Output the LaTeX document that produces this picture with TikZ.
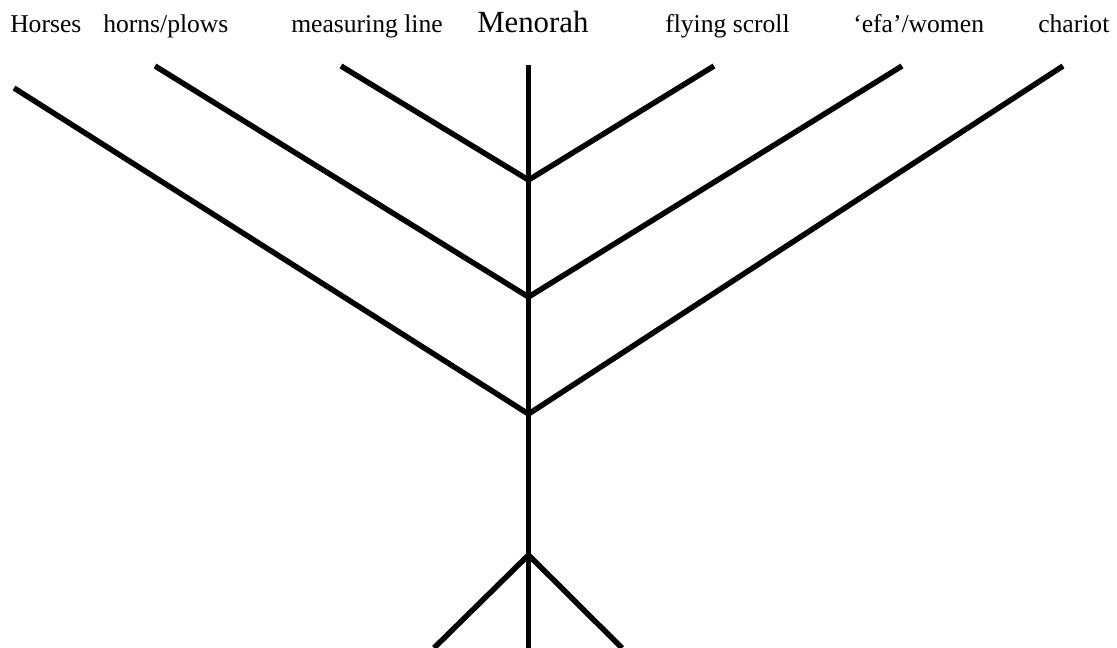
\documentclass[tikz,border=0pt]{standalone}
\usepackage{fontspec}
\setmainfont{Liberation Serif}
\begin{document}
\begin{tikzpicture}[x=0.75pt,y=-0.75pt,
  arm/.style={line width=4.1pt,line cap=butt,line join=miter},
  lbl/.style={anchor=base west,inner sep=0pt,font=\fontsize{19.2}{21}\selectfont},
  biglbl/.style={anchor=base west,inner sep=0pt,font=\fontsize{23.1}{25}\selectfont}]
\useasboundingbox (0,0) rectangle (1117,648);
% labels
\node[lbl] (horses) at (10,33) {Horses};
\node[lbl] (horns) at (103,33) {horns/plows};
\node[lbl] (measure) at (291,33) {measuring line};
\node[biglbl] (menorah) at (477,33) {Menorah};
\node[lbl] (scroll) at (665,33) {flying scroll};
\node[lbl] (efa) at (853,33) {‘efa’/women};
\node[lbl] (chariot) at (1038,33) {chariot};
% coordinates
\coordinate (top) at (528.5,65);
\coordinate (j1) at (528.5,180);
\coordinate (j2) at (528.5,297);
\coordinate (j3) at (528.5,414);
\coordinate (jf) at (528.5,555);
\coordinate (bot) at (528.5,648);
\coordinate (fl) at (434,648);
\coordinate (fr) at (622,648);
\coordinate (l1) at (341,66);
\coordinate (l2) at (155,66);
\coordinate (l3) at (14,88);
\coordinate (r1) at (714,66);
\coordinate (r2) at (902,66);
\coordinate (r3) at (1063,66);
% stem
\draw[arm] (top) -- (bot);
% arms
\draw[arm] (l1) -- (j1) -- (r1);
\draw[arm] (l2) -- (j2) -- (r2);
\draw[arm] (l3) -- (j3) -- (r3);
% feet
\draw[arm] (fl) -- (jf) -- (fr);
\end{tikzpicture}
\end{document}
